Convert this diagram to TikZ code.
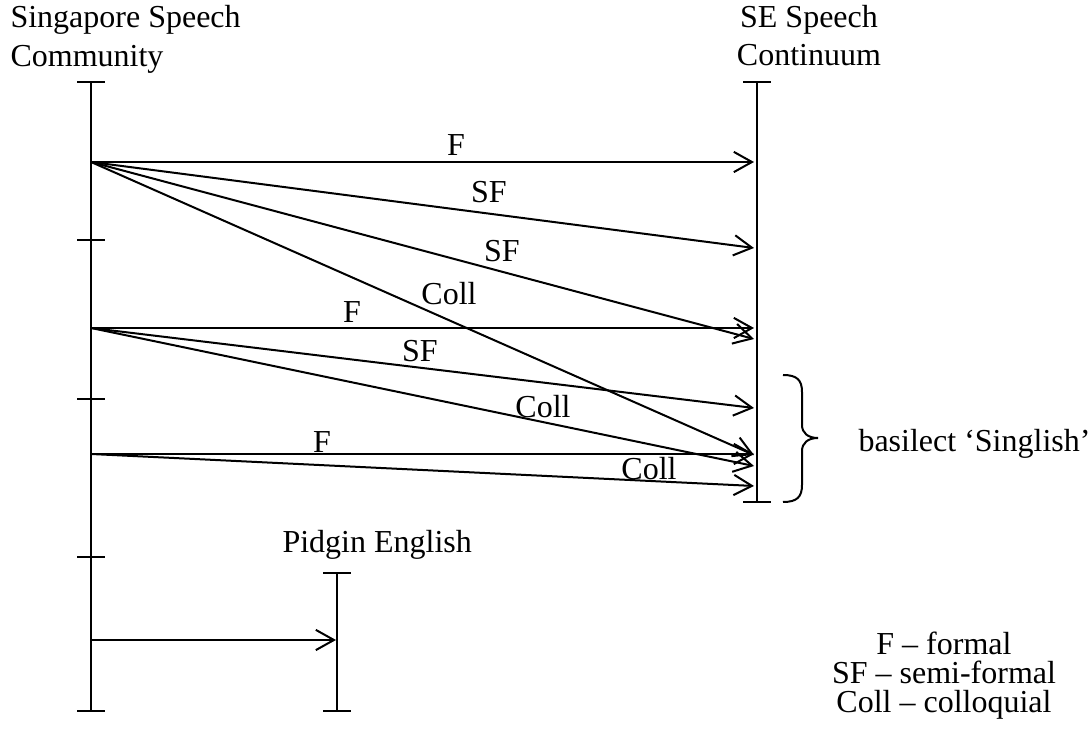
\documentclass[tikz,border=0pt]{standalone}
\usepackage{fontspec}
\setmainfont{Liberation Serif}
\usetikzlibrary{arrows.meta}
\begin{document}
\begin{tikzpicture}[x=0.375pt,y=-0.375pt,
  axis/.style={line width=0.75pt},
  conn/.style={line width=0.75pt,-{Straight Barb[length=6.8pt,width=7.6pt,line width=0.75pt]}},
  txt/.style={inner sep=0pt,anchor=base,font=\fontsize{12}{14}\selectfont},
  txtl/.style={txt,anchor=base west}]
\useasboundingbox (0,0) rectangle (1091,740);
% headers
\node[txtl] (h1a) at (10,28) {Singapore Speech};
\node[txtl] (h1b) at (10,67) {Community};
\node[txt] (h2a) at (809,28) {SE Speech};
\node[txt] (h2b) at (809,66) {Continuum};
% left axis
\coordinate (Ltop) at (91,82);
\coordinate (Lbot) at (91,711);
\draw[axis] (Ltop) -- (Lbot);
\foreach \yy in {82,240,399,557,711} \draw[axis] (77,\yy) -- (105,\yy);
% right axis
\coordinate (Rtop) at (757,82);
\coordinate (Rbot) at (757,502);
\draw[axis] (Rtop) -- (Rbot);
\draw[axis] (743,82) -- (771,82);
\draw[axis] (743,502) -- (771,502);
% pidgin axis
\coordinate (Ptop) at (337,573);
\coordinate (Pbot) at (337,711);
\draw[axis] (Ptop) -- (Pbot);
\draw[axis] (323,573) -- (351,573);
\draw[axis] (323,711) -- (351,711);
\node[txtl] (pe) at (282,553) {Pidgin English};
% origins
\coordinate (o1) at (91,162);
\coordinate (o2) at (91,328);
\coordinate (o3) at (91,454);
\coordinate (o4) at (91,640);
% tips
\coordinate (t1) at (754,162);
\coordinate (t2) at (754,248);
\coordinate (t3) at (754,339);
\coordinate (t4) at (754,455);
\coordinate (t5) at (754,328);
\coordinate (t6) at (754,408);
\coordinate (t7) at (754,466);
\coordinate (t8) at (754,454);
\coordinate (t9) at (754,486);
\coordinate (tp) at (336,640);
\draw[conn] (o1) -- (t1);
\draw[conn] (o1) -- (t2);
\draw[conn] (o1) -- (t3);
\draw[conn] (o1) -- (t4);
\draw[conn] (o2) -- (t5);
\draw[conn] (o2) -- (t6);
\draw[conn] (o2) -- (t7);
\draw[conn] (o3) -- (t8);
\draw[conn] (o3) -- (t9);
\draw[conn] (o4) -- (tp);
% labels
\node[txt] (l1) at (456,156) {F};
\node[txt] (l2) at (489,203) {SF};
\node[txt] (l3) at (502,262) {SF};
\node[txt] (l4) at (449,305) {Coll};
\node[txt] (l5) at (352,323) {F};
\node[txt] (l6) at (420,362) {SF};
\node[txt] (l7) at (543,418) {Coll};
\node[txt] (l8) at (322,453) {F};
\node[txt] (l9) at (649,480) {Coll};
% brace
\draw[axis] (783,375) .. controls (797,375) and (802,380) .. (802,392) -- (802,425)
  .. controls (802,433) and (808,438) .. (818,438)
  .. controls (808,438) and (802,443) .. (802,451) -- (802,485)
  .. controls (802,497) and (797,502) .. (783,502);
\node[txtl] (bs) at (858,452) {basilect ‘Singlish’};
% legend
\node[txt] (lg1) at (944,655) {F – formal};
\node[txt] (lg2) at (944,684) {SF – semi-formal};
\node[txt] (lg3) at (944,713) {Coll – colloquial};
\end{tikzpicture}
\end{document}
